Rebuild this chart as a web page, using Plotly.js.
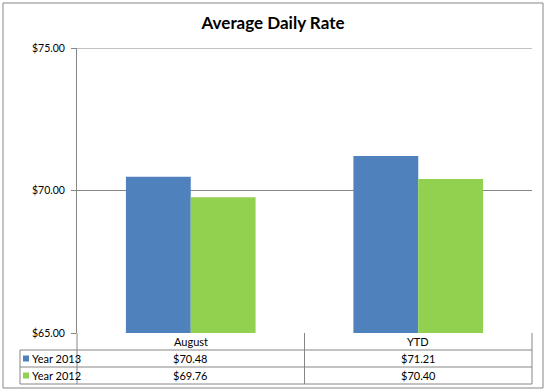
<!DOCTYPE html>
<html>
<head>
<meta charset="utf-8">
<script src="https://cdn.plot.ly/plotly-3.0.1.min.js"></script>
<style>html,body{margin:0;padding:0;background:#fff;}#chart{width:546px;height:392px;}</style>
</head>
<body>
<div id="chart"></div>
<script>
var categories = ['August', 'YTD'];
var seriesNames = ['Year 2013', 'Year 2012'];
var year2013 = [70.48, 71.21];
var year2012 = [69.76, 70.40];
var seriesColors = ['#4F81BD', '#92D050'];
var yTicks = [65, 70, 75];
var yTickLabels = ['$65.00', '$70.00', '$75.00'];

var W = 546, H = 392;
var mL = 77, mR = 14, mT = 48, mB = 59;
var pw = W - mL - mR, ph = H - mT - mB;
function px(x) { return (x - mL) / pw; }
function py(y) { return (H - mB - y) / ph; }

var grey = '#868686';
var fontFam = 'Lato, "Open Sans", sans-serif';
var seriesValues = [year2013, year2012];

var traces = seriesValues.map(function (vals, i) {
  return {
    type: 'bar', x: categories, y: vals, name: seriesNames[i],
    marker: { color: seriesColors[i], line: { width: 0 } },
    hoverinfo: 'skip'
  };
});

var rowTops = [350, 367, 384];
var shapes = [];
var ln = { color: grey, width: 1 };
shapes.push({ type: 'rect', xref: 'paper', yref: 'paper', x0: px(3), x1: px(543), y0: py(3), y1: py(388), line: ln });
shapes.push({ type: 'line', xref: 'paper', yref: 'y', x0: 0, x1: 1, y0: yTicks[2], y1: yTicks[2], line: ln });
rowTops.forEach(function (r) {
  shapes.push({ type: 'line', xref: 'paper', yref: 'paper', x0: px(20), x1: 1, y0: py(r), y1: py(r), line: ln });
});
shapes.push({ type: 'line', xref: 'paper', yref: 'paper', x0: 0, x1: 0, y0: 0, y1: py(rowTops[2]), line: ln });
shapes.push({ type: 'line', xref: 'x', yref: 'paper', x0: 0.5, x1: 0.5, y0: 0, y1: py(rowTops[2]), line: ln });
shapes.push({ type: 'line', xref: 'paper', yref: 'paper', x0: 1, x1: 1, y0: 0, y1: py(rowTops[2]), line: ln });
shapes.push({ type: 'line', xref: 'paper', yref: 'paper', x0: px(20), x1: px(20), y0: py(rowTops[0]), y1: py(rowTops[2]), line: ln });

var annotations = [];
categories.forEach(function (c, j) {
  annotations.push({ xref: 'x', yref: 'paper', x: j, y: py(341.5), text: c, showarrow: false, font: { family: fontFam, size: 11, color: '#000' }, xanchor: 'center', yanchor: 'middle' });
});
seriesValues.forEach(function (vals, i) {
  var yc = (i === 0 ? 358.5 : 375.5);
  shapes.push({ type: 'rect', xref: 'paper', yref: 'paper', x0: px(23), x1: px(29), y0: py(yc - 3), y1: py(yc + 3), fillcolor: seriesColors[i], line: { width: 0 } });
  annotations.push({ xref: 'paper', yref: 'paper', x: px(30), y: py(yc), text: seriesNames[i], showarrow: false, font: { family: fontFam, size: 11, color: '#000' }, xanchor: 'left', yanchor: 'middle' });
  vals.forEach(function (v, j) {
    annotations.push({ xref: 'x', yref: 'paper', x: j, y: py(yc), text: '$' + v.toFixed(2), showarrow: false, font: { family: fontFam, size: 11, color: '#000' }, xanchor: 'center', yanchor: 'middle' });
  });
});

var layout = {
  width: W, height: H,
  margin: { l: mL, r: mR, t: mT, b: mB, pad: 0 },
  paper_bgcolor: '#fff', plot_bgcolor: '#fff',
  showlegend: false,
  barmode: 'group', bargap: 0.43, bargroupgap: 0,
  title: { text: '<b>Average Daily Rate</b>', font: { family: fontFam, size: 17, color: '#000' }, x: 0.5, xanchor: 'center', y: 1 - 23 / H, yanchor: 'middle' },
  xaxis: { type: 'category', range: [-0.5, 1.5], showticklabels: false, showgrid: false, zeroline: false, showline: false, ticks: '', fixedrange: true },
  yaxis: { range: [65, 75], tickmode: 'array', tickvals: yTicks, ticktext: yTickLabels, showgrid: true, gridcolor: grey, gridwidth: 1, zeroline: false, showline: true, linecolor: grey, linewidth: 1, ticks: 'outside', ticklen: 5, tickcolor: grey, ticklabelstandoff: 4, tickfont: { family: fontFam, size: 10.5, color: '#000' }, fixedrange: true },
  shapes: shapes,
  annotations: annotations
};

Plotly.newPlot('chart', traces, layout, { staticPlot: true, displayModeBar: false });
</script>
</body>
</html>
